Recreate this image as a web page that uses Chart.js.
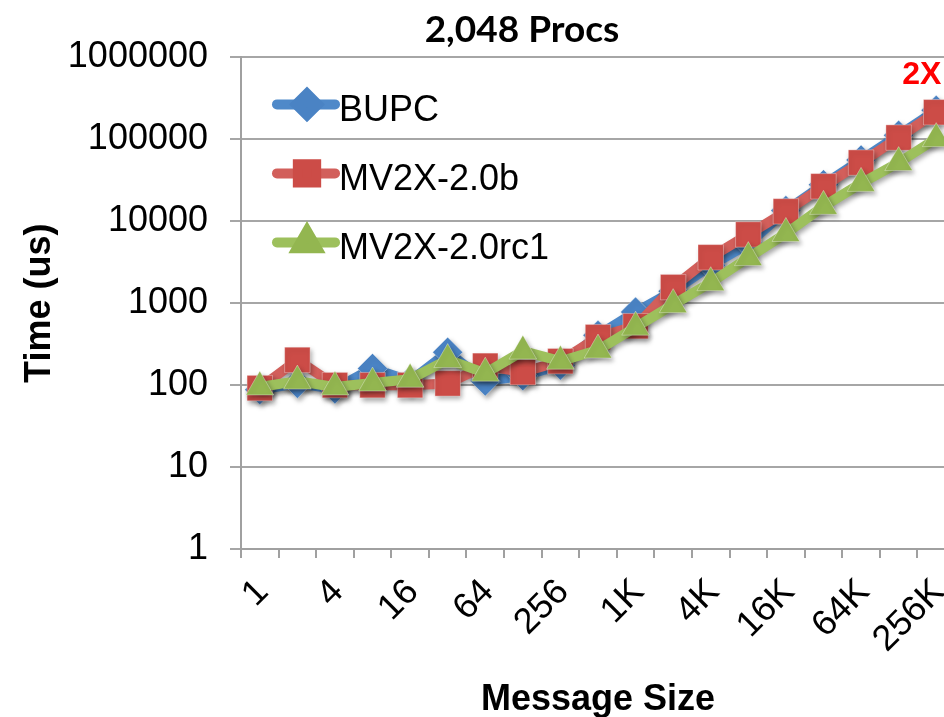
<!DOCTYPE html>
<html>
<head>
<meta charset="utf-8">
<title>2,048 Procs</title>
<script src="https://cdn.jsdelivr.net/npm/chart.js@4.4.0/dist/chart.umd.min.js"></script>
<style>
    html, body { margin: 0; padding: 0; background: #fff; overflow: hidden; }
    #wrap { width: 1044px; height: 717px; }
</style>
</head>
<body>
<div id="wrap"><canvas id="chart" width="1044" height="717"></canvas></div>
<script>
// Message sizes (x axis categories)
const messageSizes = ['1', '2', '4', '8', '16', '32', '64', '128', '256', '512',
    '1K', '2K', '4K', '8K', '16K', '32K', '64K', '128K', '256K'];

// Y axis ticks (log scale)
const yTicks = [1, 10, 100, 1000, 10000, 100000, 1000000];

// Time (us) per message size
const bupcTimes = [88, 105, 90, 160, 112, 252, 112, 130, 175, 405,
    780, 1400, 2900, 5300, 13500, 28000, 56000, 112000, 226000];
const mv2x20bTimes = [92, 203, 100, 100, 100, 105, 172, 144, 196, 385,
    525, 1570, 3630, 6900, 13200, 26700, 52000, 105000, 214000];
const mv2x20rc1Times = [95, 112, 95, 106, 118, 205, 140, 260, 196, 268,
    510, 960, 1780, 3600, 7100, 15200, 29000, 52000, 102000];

const FONT = '"Liberation Sans", Arial, sans-serif';

const ChartManager = {
    init() {
        Chart.defaults.color = '#000';
        Chart.defaults.font.family = FONT;

        const ctx = document.getElementById('chart').getContext('2d');

        this.chart = new Chart(ctx, {
            type: 'line',
            data: {
                labels: messageSizes,
                datasets: [
                    {
                        label: 'BUPC',
                        data: bupcTimes,
                        borderColor: '#4f89c9',
                        backgroundColor: '#4a83c4',
                        pointStyle: 'rectRot',
                        pointRadius: 15,
                        order: 3
                    },
                    {
                        label: 'MV2X-2.0b',
                        data: mv2x20bTimes,
                        borderColor: '#d25f5b',
                        backgroundColor: '#cc4c47',
                        pointStyle: 'rect',
                        pointRadius: 18,
                        order: 2
                    },
                    {
                        label: 'MV2X-2.0rc1',
                        data: mv2x20rc1Times,
                        borderColor: '#9dc05c',
                        backgroundColor: '#93b650',
                        pointStyle: 'triangle',
                        pointRadius: 16,
                        order: 1
                    }
                ].map(ds => Object.assign(ds, {
                    borderWidth: 10,
                    tension: 0,
                    borderCapStyle: 'round',
                    borderJoinStyle: 'round',
                    pointBorderWidth: 1,
                    pointBorderColor: 'rgba(255,255,255,0.35)',
                    pointBackgroundColor: ds.backgroundColor,
                    clip: false
                }))
            },
            options: {
                responsive: false,
                animation: false,
                layout: {
                    padding: 0
                },
                plugins: {
                    legend: { display: false },
                    tooltip: { enabled: false },
                    title: {
                        display: true,
                        text: '2,048 Procs',
                        color: '#000',
                        font: { family: 'Lato, sans-serif', size: 37, weight: 'bold' },
                        padding: { top: 8, bottom: 5 }
                    }
                },
                scales: {
                    x: {
                        type: 'category',
                        offset: true,
                        grid: {
                            offset: true,
                            drawOnChartArea: false,
                            color: '#a0a0a0',
                            lineWidth: 2,
                            tickLength: 9
                        },
                        border: { color: '#a0a0a0', width: 2 },
                        ticks: {
                            autoSkip: false,
                            minRotation: 45,
                            maxRotation: 45,
                            padding: 13,
                            labelOffset: 3,
                            font: { size: 36 },
                            callback: function(value, index) {
                                return index % 2 === 0 ? this.getLabelForValue(value) : '';
                            }
                        },
                        title: {
                            display: true,
                            text: 'Message Size',
                            font: { size: 36, weight: 'bold' },
                            padding: { top: 0, bottom: -5 }
                        },
                        afterFit(axis) {
                            axis.height = 168;
                        }
                    },
                    y: {
                        type: 'logarithmic',
                        min: 1,
                        max: 1000000,
                        afterBuildTicks(axis) {
                            axis.ticks = yTicks.map(v => ({ value: v }));
                        },
                        grid: {
                            color: '#a6a6a6',
                            lineWidth: 2,
                            tickLength: 11
                        },
                        border: { color: '#a0a0a0', width: 2 },
                        ticks: {
                            padding: 22,
                            font: { size: 36 },
                            callback: value => String(value)
                        },
                        title: {
                            display: true,
                            text: 'Time (us)',
                            font: { size: 36, weight: 'bold' },
                            padding: { top: 18, bottom: 0 }
                        },
                        afterFit(axis) {
                            axis.width = 241;
                        }
                    },
                    // empty right-hand box, keeps the plot cut at the page edge
                    // while the title stays centred on the full width
                    spacer: {
                        type: 'linear',
                        position: 'right',
                        display: true,
                        grid: { display: false, drawTicks: false },
                        border: { display: false },
                        ticks: { display: false },
                        afterFit(axis) {
                            axis.width = 89;
                        }
                    }
                }
            },
            plugins: [this.shadowPlugin, this.legendPlugin, this.notePlugin]
        });
    },

    // Drop shadow under lines and markers, like the office chart
    shadowPlugin: {
        id: 'seriesShadow',
        beforeDatasetDraw(chart) {
            const ctx = chart.ctx;
            ctx.save();
            ctx.shadowColor = 'rgba(0,0,0,0.35)';
            ctx.shadowBlur = 5;
            ctx.shadowOffsetX = 2;
            ctx.shadowOffsetY = 3;
        },
        afterDatasetDraw(chart) {
            chart.ctx.restore();
        }
    },

    // Legend drawn inside the plot, top-left
    legendPlugin: {
        id: 'insideLegend',
        afterDatasetsDraw(chart) {
            const ctx = chart.ctx;
            const area = chart.chartArea;
            const x0 = area.left + 36;
            chart.data.datasets.forEach((ds, i) => {
                const y = area.top + 47 + i * 69;
                ctx.save();
                ctx.strokeStyle = ds.borderColor;
                ctx.lineWidth = 10;
                ctx.lineCap = 'round';
                ctx.beginPath();
                ctx.moveTo(x0, y);
                ctx.lineTo(x0 + 58, y);
                ctx.stroke();
                ctx.fillStyle = ds.backgroundColor;
                ctx.strokeStyle = ds.backgroundColor;
                Chart.helpers.drawPoint(ctx, {
                    pointStyle: ds.pointStyle,
                    radius: ds.pointRadius * 0.72,
                    rotation: 0,
                    borderWidth: 1
                }, x0 + 30, y);
                ctx.fillStyle = '#000';
                ctx.font = '36px ' + FONT;
                ctx.textAlign = 'left';
                ctx.textBaseline = 'alphabetic';
                ctx.fillText(ds.label, x0 + 62, y + 17);
                ctx.restore();
            });
        }
    },

    // "2X" note above the last point
    notePlugin: {
        id: 'speedupNote',
        afterDraw(chart) {
            const meta = chart.getDatasetMeta(1);
            const last = meta.data[meta.data.length - 1];
            const ctx = chart.ctx;
            ctx.save();
            ctx.fillStyle = '#ff0000';
            ctx.font = 'bold 32px ' + FONT;
            ctx.textAlign = 'left';
            ctx.fillText('2X', last.x - 34, last.y - 28);
            ctx.restore();
        }
    }
};

ChartManager.init();
</script>
</body>
</html>
